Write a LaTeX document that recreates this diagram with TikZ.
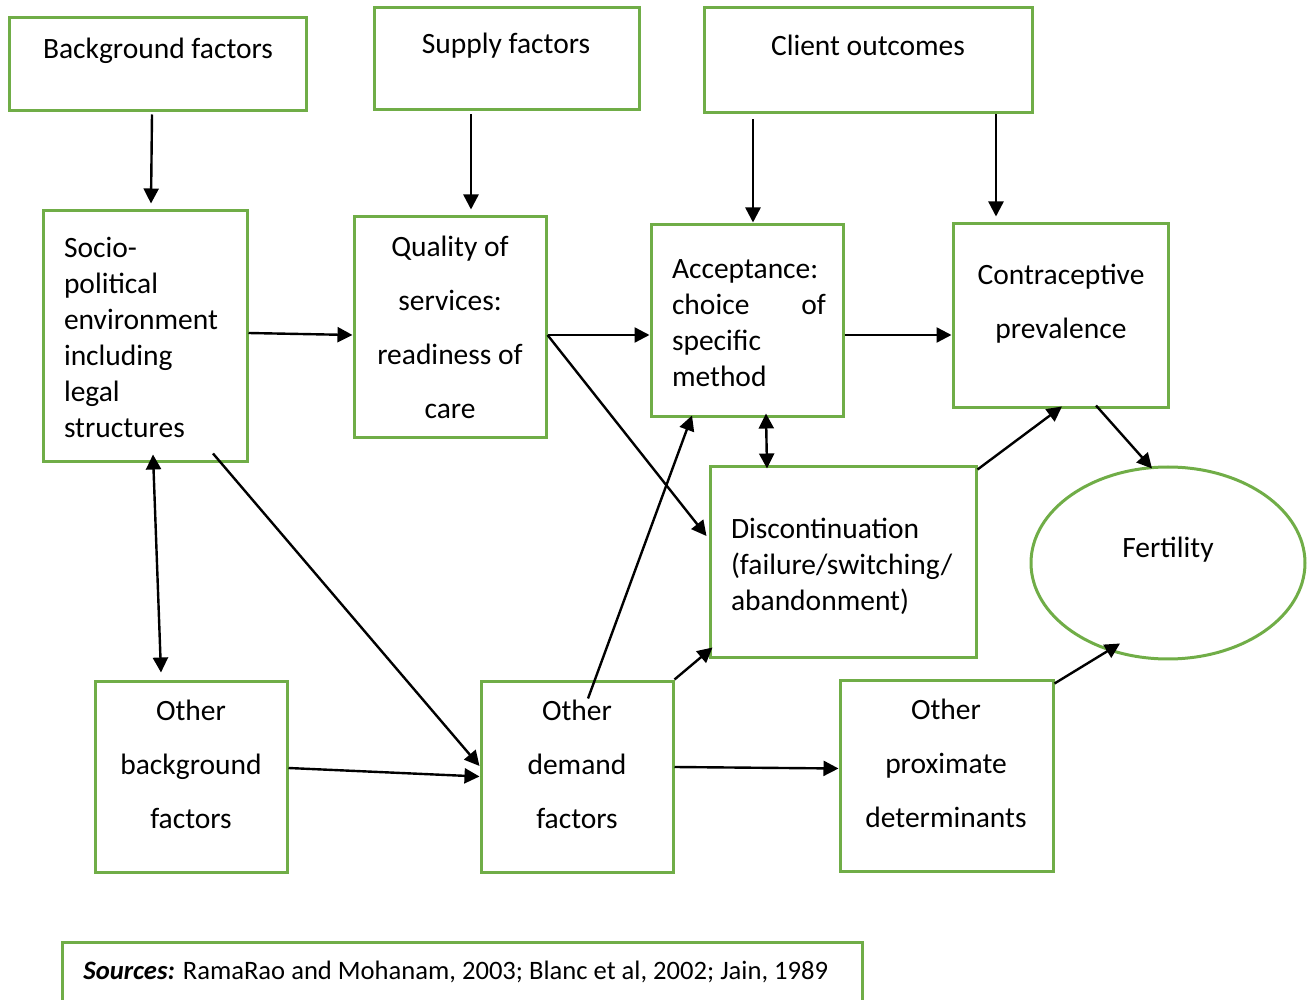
\documentclass[tikz,border=0pt]{standalone}
\usepackage{fontspec}
\setmainfont{Carlito}
\usetikzlibrary{arrows.meta,fit,shapes.geometric}
\definecolor{boxgreen}{HTML}{70AD47}

\begin{document}
\begin{tikzpicture}[x=0.5pt,y=-0.5pt,font=\fontsize{14.75}{18}\selectfont,
  box/.style={draw=boxgreen,line width=1.5pt,inner sep=0pt},
  txt/.style={inner sep=0pt,align=center,execute at begin node=\strut,execute at end node=\strut},
  wide/.style={txt,font=\fontsize{14.75}{27}\selectfont},
  arr/.style={line width=1.2pt,-{Triangle[length=7.5pt,width=7.5pt]}},
  dbl/.style={line width=1.2pt,{Triangle[length=7.5pt,width=7.5pt]}-{Triangle[length=7.5pt,width=7.5pt]}}]
\clip (0,0) rectangle (1314,1000);
% boxes
\node[box,fit={(9,18) (306,111)}] (bg) {};
\node[box,fit={(374,8) (639,110)}] (sup) {};
\node[box,fit={(704,8) (1032,113)}] (cli) {};
\node[box,fit={(43,211) (247,462)}] (soc) {};
\node[box,fit={(354,217) (546,438)}] (qua) {};
\node[box,fit={(651,225) (843,417)}] (acc) {};
\node[box,fit={(953,224) (1168,408)}] (con) {};
\node[box,fit={(710,467) (976,658)}] (dis) {};
\node[box,ellipse,minimum width=137pt,minimum height=96pt] (fer) at (1168,563) {};
\node[box,fit={(95,681) (287,872)}] (obg) {};
\node[box,fit={(481,681) (673,872)}] (dem) {};
\node[box,fit={(840,680) (1053,871)}] (pro) {};
\node[box,fit={(62,942) (862,1012)}] (src) {};
% texts
\node[txt] (bgt) at (158,51) {Background factors};
\node[txt] (supt) at (506,46) {Supply factors};
\node[txt] (clit) at (868,48) {Client outcomes};
\node[txt,align=left,text width=80pt] (soct) at (144,340)
  {Socio-\\political\\environment\\including\\legal\\structures};
\node[wide] (quat) at (450,335) {Quality of\\services:\\readiness of\\care};
\node[txt,align=left,text width=77pt] (acct) at (749,325)
  {Acceptance:\\choice\hfill of\\specific\\method};
\node[wide] (cont) at (1061,309) {Contraceptive\\prevalence};
\node[txt,align=left,text width=115pt] (dist) at (846,567)
  {Discontinuation\\(failure/switching/\\abandonment)};
\node[txt] (fert) at (1168,550) {Fertility};
\node[wide] (obgt) at (191,772) {Other\\background\\factors};
\node[wide] (demt) at (577,772) {Other\\demand\\factors};
\node[wide] (prot) at (946,771) {Other\\proximate\\determinants};
\node[txt,anchor=west,font=\fontsize{13.3}{16.3}\selectfont] (srct) at (83,973)
  {\textbf{\textit{Sources:}} RamaRao and Mohanam, 2003; Blanc et al, 2002; Jain, 1989};
% arrows
\draw[arr] ([xshift=-2.75pt,yshift=-1pt]bg.south) -- ([xshift=3pt,yshift=3pt]soc.north);
\draw[arr] ([xshift=-17.75pt,yshift=-1.5pt]sup.south) -- ([xshift=10.5pt,yshift=3pt]qua.north);
\draw[arr] ([xshift=-57.5pt,yshift=-2.5pt]cli.south) -- ([xshift=3pt,yshift=0.5pt]acc.north);
\draw[arr] ([xshift=64pt]cli.south) -- ([xshift=-32.25pt,yshift=3pt]con.north);
\draw[arr] ([yshift=1.75pt]soc.east) -- ([yshift=-3.75pt]qua.west);
\draw[arr] ([yshift=-3.75pt]qua.east) -- ([yshift=-7pt]acc.west);
\draw[arr] ([yshift=-7pt]acc.east) -- ([yshift=-9.5pt]con.west);
\draw[arr] ([yshift=-3.75pt]qua.east) -- ([xshift=-1pt,yshift=13.25pt]dis.west);
\draw[dbl] ([xshift=9.5pt,yshift=2.5pt]acc.south) -- ([xshift=-38pt,yshift=-1.5pt]dis.north);
\draw[arr] ([yshift=-2pt]dis.north east) -- ([xshift=0.75pt,yshift=1.5pt]con.south);
\draw[arr] ([xshift=17.75pt,yshift=2pt]con.south) -- ([xshift=-8pt,yshift=-1.5pt]fer.north);
\draw[arr] ([xshift=34pt,yshift=5pt]soc.south) -- ([yshift=5.25pt]dem.west);
\draw[dbl] ([xshift=4pt,yshift=4.5pt]soc.south) -- ([xshift=-15pt,yshift=3.5pt]obg.north);
\draw[arr] ([yshift=4.25pt]obg.east) -- (dem.west);
\draw[arr] ([xshift=5.5pt,yshift=-9.5pt]dem.north) -- ([xshift=-27.5pt,yshift=1.5pt]acc.south);
\draw[arr] (dem.north east) -- ([xshift=2pt,yshift=6pt]dis.south west);
\draw[arr] ([yshift=4.75pt]dem.east) -- ([yshift=3.5pt]pro.west);
\draw[arr] ([yshift=-2.5pt]pro.north east) -- ([xshift=-24pt,yshift=8.5pt]fer.south);
\end{tikzpicture}
\end{document}
